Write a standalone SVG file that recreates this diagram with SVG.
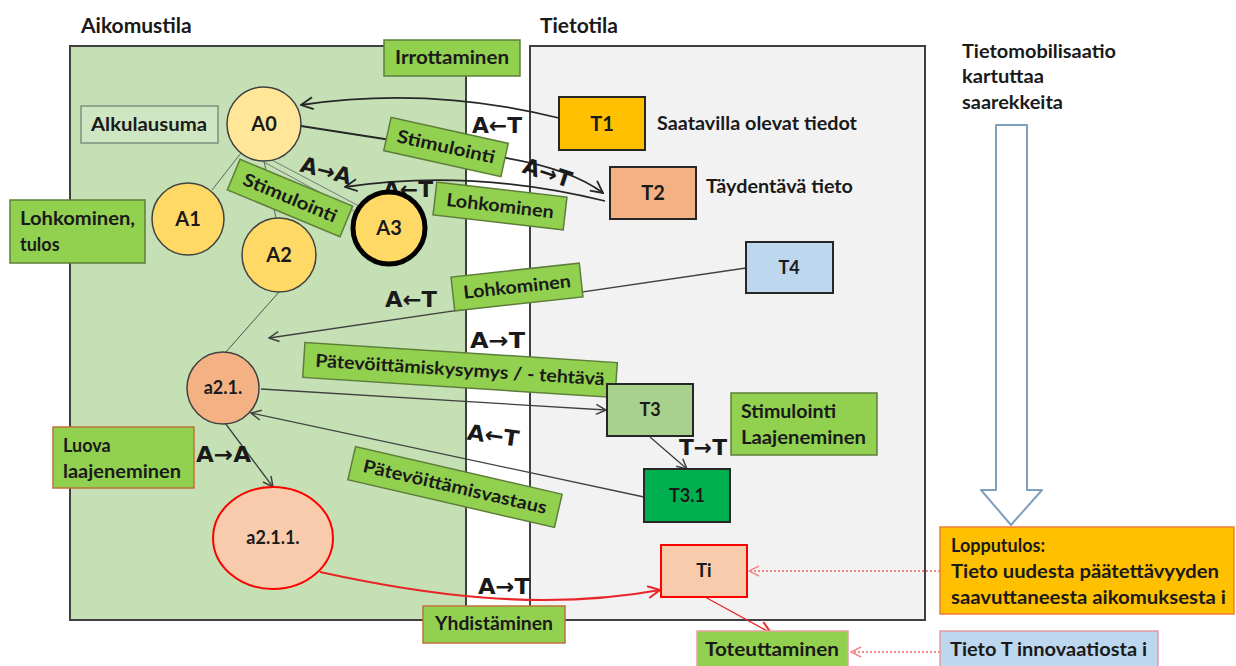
<svg xmlns="http://www.w3.org/2000/svg" width="1236" height="666" viewBox="0 0 1236 666">
<defs>
<style>
text{font-family:Lato,"Liberation Sans","DejaVu Sans",sans-serif;font-weight:bold;fill:#1a1a1a}
.t{font-size:21px}
.lb{font-size:18px}
.nd{font-size:20px}
.ar{font-size:22px;font-family:"DejaVu Sans",Lato,sans-serif;font-weight:bold}
.gbox{fill:#92d050;stroke:#5e7f3a;stroke-width:1.5}
.circ{stroke:#404040;stroke-width:1.5}
.tbox{stroke:#262626;stroke-width:2}
.c{fill:none;stroke:#404040;stroke-width:1.3}
.cd{fill:none;stroke:#262626;stroke-width:1.8}
.cr{fill:none;stroke:#e8262a;stroke-width:2.2}
.dot{fill:none;stroke:#ee8a8a;stroke-width:2;stroke-dasharray:2 2}
</style>
<marker id="ah" viewBox="0 0 12 12" refX="11" refY="6" markerWidth="12" markerHeight="12" markerUnits="userSpaceOnUse" orient="auto"><path d="M1,1 L11,6 L1,11" fill="none" stroke="#404040" stroke-width="1.5"/></marker>
<marker id="ahd" viewBox="0 0 14 14" refX="13" refY="7" markerWidth="14" markerHeight="14" markerUnits="userSpaceOnUse" orient="auto"><path d="M1,1 L13,7 L1,13" fill="none" stroke="#262626" stroke-width="1.8"/></marker>
<marker id="ahr" viewBox="0 0 14 14" refX="13" refY="7" markerWidth="14" markerHeight="14" markerUnits="userSpaceOnUse" orient="auto"><path d="M1,1 L13,7 L1,13" fill="none" stroke="#e8262a" stroke-width="2"/></marker>
<marker id="ahp" viewBox="0 0 12 12" refX="11" refY="6" markerWidth="12" markerHeight="12" markerUnits="userSpaceOnUse" orient="auto"><path d="M1,1 L11,6 L1,11" fill="none" stroke="#ee8a8a" stroke-width="1.5"/></marker>
</defs>
<rect width="1236" height="666" fill="#ffffff"/>

<g id="panels">
<rect x="70" y="46" width="396" height="574" fill="#c5e0b4" stroke="#404040" stroke-width="2"/>
<rect x="530" y="46" width="395" height="574" fill="#f2f2f2" stroke="#404040" stroke-width="2"/>
<line x1="466" y1="46" x2="466" y2="620" stroke="#404040" stroke-width="2"/>
<text x="81" y="33" class="t">Aikomustila</text>
<text x="540" y="33" class="t">Tietotila</text>
</g>

<g id="connectors">
<line x1="241" y1="153" x2="212" y2="190" stroke="#5a6a5a" stroke-width="1"/>
<line x1="264" y1="161" x2="276" y2="218" stroke="#5a6a5a" stroke-width="1"/>
<line x1="262" y1="161" x2="354" y2="211" stroke="#7a7a7a" stroke-width="1"/>
<line x1="268" y1="158" x2="359" y2="206" stroke="#7a7a7a" stroke-width="1"/>
<path class="cd" d="M559,118 Q430,86 301,105" marker-end="url(#ahd)"/>
<path class="cd" d="M301,126 L500,157 Q570,168 603,193" marker-end="url(#ahd)"/>
<path class="cd" d="M605,201 Q470,168 345,187" marker-end="url(#ahd)"/>
<line x1="279" y1="292" x2="225" y2="353" stroke="#505050" stroke-width="1"/>
<path class="c" d="M746,268 L269,338" marker-end="url(#ah)"/>
<path class="c" d="M261,389 L606,410" marker-end="url(#ah)"/>
<path class="c" d="M644,497 L251,413" marker-end="url(#ah)"/>
<path class="c" d="M650,437 L687,469" marker-end="url(#ah)"/>
<path class="c" d="M225,423 L273,487" marker-end="url(#ah)"/>
<path class="cr" d="M320,572 C420,594 540,612 660,590" marker-end="url(#ahr)"/>
<path d="M705,597 L771,633" fill="none" stroke="#e8262a" stroke-width="1.4" marker-end="url(#ahr)"/>
<path class="dot" d="M940,571 L749,571" marker-end="url(#ahp)"/>
<path class="dot" d="M940,652 L851,652" marker-end="url(#ahp)"/>
</g>

<g id="arrow-labels">
<text class="ar" x="472" y="133" textLength="50" lengthAdjust="spacingAndGlyphs">A←T</text>
<text class="ar" transform="translate(545,180) rotate(18)" x="-25" y="0" textLength="50" lengthAdjust="spacingAndGlyphs">A→T</text>
<text class="ar" transform="translate(324,178) rotate(15)" x="-26" y="0" textLength="52" lengthAdjust="spacingAndGlyphs">A→A</text>
<text class="ar" x="383" y="197" textLength="50" lengthAdjust="spacingAndGlyphs">A←T</text>
<text class="ar" x="385" y="307" textLength="52" lengthAdjust="spacingAndGlyphs">A←T</text>
<text class="ar" x="470" y="348" textLength="55" lengthAdjust="spacingAndGlyphs">A→T</text>
<text class="ar" transform="translate(492,443) rotate(8)" x="-26" y="0" textLength="52" lengthAdjust="spacingAndGlyphs">A←T</text>
<text class="ar" x="679" y="455" textLength="48" lengthAdjust="spacingAndGlyphs">T→T</text>
<text class="ar" x="196" y="462" textLength="55" lengthAdjust="spacingAndGlyphs">A→A</text>
<text class="ar" x="478" y="594" textLength="52" lengthAdjust="spacingAndGlyphs">A→T</text>
</g>

<g id="Irrottaminen"><rect class="gbox" x="384" y="40" width="136" height="36"/><text class="lb" x="452" y="64" text-anchor="middle" textLength="114" lengthAdjust="spacingAndGlyphs">Irrottaminen</text></g>
<g id="Alkulausuma"><rect x="81" y="106" width="137" height="37" fill="#cfe6c2" stroke="#7f8f7f" stroke-width="1.5"/><text class="lb" x="149" y="131" text-anchor="middle" textLength="116" lengthAdjust="spacingAndGlyphs">Alkulausuma</text></g>
<g id="LohkominenTulos"><rect class="gbox" x="10" y="200" width="135" height="63"/><text class="lb" x="20" y="225" textLength="115" lengthAdjust="spacingAndGlyphs">Lohkominen,</text><text class="lb" x="20" y="251">tulos</text></g>

<g id="A0"><circle class="circ" cx="264" cy="124" r="37" fill="#ffe699"/><text class="nd" x="264" y="131" text-anchor="middle">A0</text></g>
<g id="A1"><circle class="circ" cx="188" cy="219" r="36" fill="#ffd966"/><text class="nd" x="188" y="226" text-anchor="middle">A1</text></g>
<g id="A2"><circle class="circ" cx="279" cy="255" r="37" fill="#ffd966"/><text class="nd" x="279" y="262" text-anchor="middle">A2</text></g>
<g id="A3"><circle cx="389" cy="228" r="36" fill="#ffd966" stroke="#000" stroke-width="5"/><text class="nd" x="389" y="235" text-anchor="middle">A3</text></g>

<g id="StimulointiA"><g transform="translate(290,198) rotate(22.6)"><rect class="gbox" x="-61" y="-16.5" width="122" height="33"/><text class="lb" x="0" y="6" text-anchor="middle" textLength="100" lengthAdjust="spacingAndGlyphs">Stimulointi</text></g></g>
<g id="StimulointiT"><g transform="translate(446,147) rotate(12.5)"><rect class="gbox" x="-60" y="-17" width="120" height="34"/><text class="lb" x="0" y="6" text-anchor="middle" textLength="100" lengthAdjust="spacingAndGlyphs">Stimulointi</text></g></g>
<g id="LohkominenUp"><g transform="translate(500,206) rotate(6.6)"><rect class="gbox" x="-65.5" y="-16.5" width="131" height="33"/><text class="lb" x="0" y="6" text-anchor="middle" textLength="108" lengthAdjust="spacingAndGlyphs">Lohkominen</text></g></g>
<g id="LohkominenLow"><g transform="translate(517,287) rotate(-6.2)"><rect class="gbox" x="-64.5" y="-17" width="129" height="34"/><text class="lb" x="0" y="6" text-anchor="middle" textLength="108" lengthAdjust="spacingAndGlyphs">Lohkominen</text></g></g>
<g id="Patevoittamiskysymys"><g transform="translate(460,370) rotate(3.7)"><rect class="gbox" x="-156.5" y="-17.5" width="313" height="35"/><text class="lb" x="0" y="6" text-anchor="middle" textLength="290" lengthAdjust="spacingAndGlyphs">Pätevöittämiskysymys / - tehtävä</text></g></g>
<g id="Patevoittamisvastaus"><g transform="translate(455,487) rotate(13)"><rect class="gbox" x="-106" y="-17" width="212" height="34"/><text class="lb" x="0" y="6" text-anchor="middle" textLength="188" lengthAdjust="spacingAndGlyphs">Pätevöittämisvastaus</text></g></g>

<g id="T1"><rect class="tbox" x="559" y="97" width="86" height="53" fill="#ffc000"/><text class="nd" x="602" y="131" text-anchor="middle">T1</text></g>
<text class="lb" x="657" y="130" textLength="200" lengthAdjust="spacingAndGlyphs">Saatavilla olevat tiedot</text>
<g id="T2"><rect class="tbox" x="610" y="167" width="86" height="52" fill="#f4b183"/><text class="nd" x="653" y="200" text-anchor="middle">T2</text></g>
<text class="lb" x="706" y="193" textLength="147" lengthAdjust="spacingAndGlyphs">Täydentävä tieto</text>
<g id="T4"><rect class="tbox" x="746" y="242" width="87" height="51" fill="#bdd7ee"/><text class="lb" x="789" y="274" text-anchor="middle">T4</text></g>

<g id="a2_1"><circle class="circ" cx="223" cy="388" r="36" fill="#f4b183"/><text class="lb" x="223" y="394" text-anchor="middle">a2.1.</text></g>
<g id="T3"><rect class="tbox" x="607" y="384" width="86" height="52" fill="#a9d18e"/><text class="lb" x="650" y="416" text-anchor="middle">T3</text></g>
<g id="StimLaaj"><rect class="gbox" x="731" y="393" width="146" height="62"/><text class="lb" x="741" y="418" textLength="95" lengthAdjust="spacingAndGlyphs">Stimulointi</text><text class="lb" x="741" y="444" textLength="125" lengthAdjust="spacingAndGlyphs">Laajeneminen</text></g>
<g id="T3_1"><rect class="tbox" x="644" y="469" width="86" height="53" fill="#00b050"/><text class="lb" x="687" y="502" text-anchor="middle">T3.1</text></g>
<g id="Luova"><rect x="53" y="427" width="141" height="61" fill="#92d050" stroke="#c0713a" stroke-width="1.5"/><text class="lb" x="63" y="452">Luova</text><text class="lb" x="63" y="478" textLength="118" lengthAdjust="spacingAndGlyphs">laajeneminen</text></g>
<g id="a2_1_1"><ellipse cx="273" cy="538" rx="60" ry="51" fill="#f8cbad" stroke="#ff0000" stroke-width="2"/><text class="lb" x="273" y="544" text-anchor="middle">a2.1.1.</text></g>
<g id="Ti"><rect x="661" y="545" width="86" height="52" fill="#f8cbad" stroke="#ff0000" stroke-width="2"/><text class="lb" x="704" y="577" text-anchor="middle">Ti</text></g>
<g id="Yhdistaminen"><rect x="423" y="606" width="142" height="37" fill="#92d050" stroke="#c0713a" stroke-width="1.5"/><text class="lb" x="494" y="630" text-anchor="middle" textLength="118" lengthAdjust="spacingAndGlyphs">Yhdistäminen</text></g>
<g id="Toteuttaminen"><rect x="697" y="631" width="151" height="37" fill="#92d050" stroke="#e8a0a0" stroke-width="1.5"/><text class="lb" x="772" y="656" text-anchor="middle" textLength="134" lengthAdjust="spacingAndGlyphs">Toteuttaminen</text></g>
<g id="Lopputulos"><rect x="940" y="527" width="294" height="87" fill="#ffc000" stroke="#ed7d31" stroke-width="1.5"/><text class="lb" x="951" y="552">Lopputulos:</text><text class="lb" x="951" y="578" textLength="268" lengthAdjust="spacingAndGlyphs">Tieto uudesta päätettävyyden</text><text class="lb" x="951" y="604" textLength="275" lengthAdjust="spacingAndGlyphs">saavuttaneesta aikomuksesta i</text></g>
<g id="TietoT"><rect x="940" y="631" width="218" height="37" fill="#bdd7ee" stroke="#e59aa0" stroke-width="1.5"/><text class="lb" x="950" y="656" textLength="197" lengthAdjust="spacingAndGlyphs">Tieto T innovaatiosta i</text></g>

<g id="Tietomobilisaatio">
<text class="lb" x="962" y="58" textLength="154" lengthAdjust="spacingAndGlyphs">Tietomobilisaatio</text>
<text class="lb" x="962" y="83" textLength="82" lengthAdjust="spacingAndGlyphs">kartuttaa</text>
<text class="lb" x="962" y="109" textLength="101" lengthAdjust="spacingAndGlyphs">saarekkeita</text>
<path d="M996,125 L1027,125 L1027,490 L1042,490 L1011,525 L981,490 L996,490 Z" fill="#ffffff" stroke="#7f9fbf" stroke-width="2" stroke-linejoin="round"/>
</g>
</svg>
